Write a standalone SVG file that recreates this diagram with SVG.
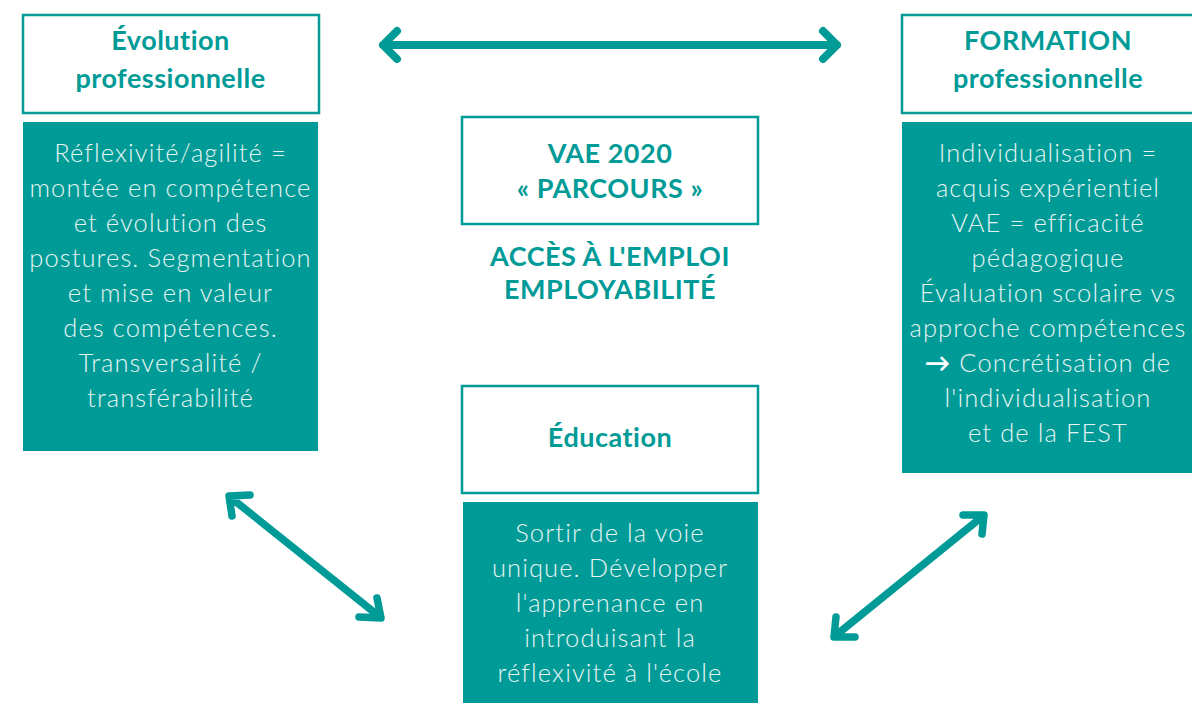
<svg xmlns="http://www.w3.org/2000/svg" width="1192" height="703" viewBox="0 0 1192 703">
<style>
.frame{fill:#fff;stroke:#009B97;stroke-width:2.5}
.fill{fill:#009B97}
.title{font-family:Lato,"Liberation Sans",sans-serif;font-weight:700;font-size:27px;letter-spacing:0.5px;fill:#009B97;text-anchor:middle}
.body{font-family:Lato,"Liberation Sans",sans-serif;font-weight:300;font-size:25.5px;letter-spacing:1.1px;fill:#E6F4F3;text-anchor:middle}
.arrow{fill:none;stroke:#009B97;stroke-width:8;stroke-linecap:round;stroke-linejoin:round}
</style>
<rect width="1192" height="703" fill="#fff"/>
<g id="evolution">
<rect class="frame" x="23" y="15" width="296" height="98"/>
<text class="title" x="170.5" y="50">Évolution</text>
<text class="title" x="170.5" y="88">professionnelle</text>
<rect class="fill" x="23" y="122" width="295" height="329"/>
<text class="body" x="170.5" y="162">Réflexivité/agilité =</text>
<text class="body" x="170.5" y="197">montée en compétence</text>
<text class="body" x="170.5" y="232">et évolution des</text>
<text class="body" x="170.5" y="267">postures. Segmentation</text>
<text class="body" x="170.5" y="302">et mise en valeur</text>
<text class="body" x="170.5" y="337">des compétences.</text>
<text class="body" x="170.5" y="372">Transversalité /</text>
<text class="body" x="170.5" y="407">transférabilité</text>
</g>
<g id="formation">
<rect class="frame" x="902" y="15" width="296" height="98"/>
<text class="title" x="1048" y="50">FORMATION</text>
<text class="title" x="1048" y="88">professionnelle</text>
<rect class="fill" x="902" y="122" width="296" height="351"/>
<text class="body" x="1048" y="161.5">Individualisation =</text>
<text class="body" x="1048" y="196.5">acquis expérientiel</text>
<text class="body" x="1048" y="231.5">VAE = efficacité</text>
<text class="body" x="1048" y="266.5">pédagogique</text>
<text class="body" x="1048" y="301.5">Évaluation scolaire vs</text>
<text class="body" x="1048" y="336.5">approche compétences</text>
<text class="body" x="1048" y="371.5"><tspan style="fill:#fff;font-weight:700">→</tspan> Concrétisation de</text>
<text class="body" x="1048" y="406.5">l'individualisation</text>
<text class="body" x="1048" y="441.5">et de la FEST</text>
</g>
<g id="vae">
<rect class="frame" x="462" y="117" width="296" height="107"/>
<text class="title" x="610" y="163">VAE 2020</text>
<text class="title" x="610" y="198">« PARCOURS »</text>
<text class="title" x="610" y="266">ACCÈS À L'EMPLOI</text>
<text class="title" x="610" y="299">EMPLOYABILITÉ</text>
</g>
<g id="education">
<rect class="frame" x="462" y="386" width="296" height="107"/>
<text class="title" x="610" y="447">Éducation</text>
<rect class="fill" x="463" y="502" width="295" height="201"/>
<text class="body" x="610" y="542">Sortir de la voie</text>
<text class="body" x="610" y="577">unique. Développer</text>
<text class="body" x="610" y="612">l'apprenance en</text>
<text class="body" x="610" y="647">introduisant la</text>
<text class="body" x="610" y="682">réflexivité à l'école</text>
</g>
<g id="connectors">
<path class="arrow" d="M383,45 L837,45 M397,31 L383,45 L397,59 M823,31 L837,45 L823,59"/>
<path class="arrow" style="stroke-width:7.5" d="M230,497 L380,617 M250,495 L229,496 L232,516 M359,617 L381,618 L377,598"/>
<path class="arrow" style="stroke-width:7.5" d="M983,516 L835,636 M963,515 L984,515 L982,534 M836,617 L834,637 L855,637"/>
</g>
</svg>
